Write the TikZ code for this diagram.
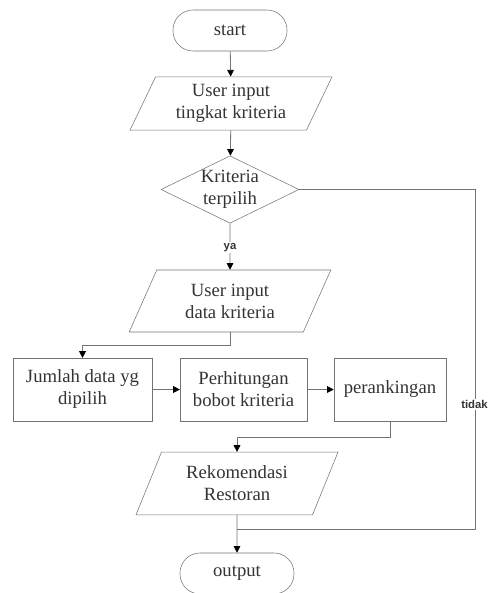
\documentclass[tikz,border=0pt]{standalone}
\usepackage{fontspec}
\setmainfont{Liberation Serif}
\newfontfamily\labelfont{Liberation Sans}
\usetikzlibrary{arrows.meta,shapes.geometric}

\tikzset{
  term/.style={draw=black!55,rounded corners=15pt,minimum width=85.5pt,minimum height=30.75pt,inner sep=0pt},
  io/.style={draw=black!55,trapezium,trapezium left angle=64,trapezium right angle=116,
    trapezium stretches=true,minimum width=151.5pt,align=center,inner sep=0pt},
  decision/.style={draw=black!55,diamond,aspect=2,minimum width=103.5pt,minimum height=48.75pt,
    align=center,inner sep=0pt},
  process/.style={draw=black!55,minimum height=47pt,align=center,inner sep=0pt},
  flow/.style={draw=black!55,line width=0.6pt,-{Triangle[length=5pt,width=5pt,fill=black,color=black]}},
  tag/.style={font=\labelfont\bfseries\fontsize{8.5}{10}\selectfont,fill=white,inner sep=1pt}
}

\begin{document}
\begin{tikzpicture}[x=0.75pt,y=-0.75pt,font=\fontsize{14}{16.5}\selectfont,text=black!80]
  \useasboundingbox (0,0) rectangle (487,593);
  % main column
  \node[term] (start) at (230,30.5) {start};
  \node[io,minimum height=40pt] (inkrit) at (231,103.5) {User input\\tingkat kriteria};
  \node[decision] (pilih) at (230,189.5) {Kriteria\\terpilih};
  \node[io,minimum height=46.5pt] (indata) at (230,301) {User input\\data kriteria};
  % process row
  \node[process,minimum width=104pt] (jumlah) at (82.5,389.5) {Jumlah data yg\\dipilih};
  \node[process,minimum width=95pt] (bobot) at (243.5,389.5) {Perhitungan\\bobot kriteria};
  \node[process,minimum width=84pt] (rank) at (390,389.5) {perankingan};
  % bottom
  \node[io,minimum height=47pt] (rekom) at (237,483.5) {Rekomendasi\\Restoran};
  \node[term] (output) at (237,573.5) {output};
  \coordinate (tidakpt) at (475,529);
  \coordinate (join) at (237,529);

  \draw[flow] (start) -- (inkrit);
  \draw[flow] (inkrit) -- (pilih);
  \draw[flow] (pilih) -- node[tag,pos=0.52] (ya) {ya} (indata);
  \draw[flow] (indata.south) -- ++(0,13) -| (jumlah.north);
  \draw[flow] (jumlah) -- (bobot);
  \draw[flow] (bobot) -- (rank);
  \draw[flow] (rank.south) -- ++(0,16) -| (rekom.north);
  \draw[flow] (rekom) -- (output);
  % tidak branch
  \draw[draw=black!55,line width=0.6pt] (pilih.east) -| (tidakpt) -- (join);
  \node[tag] (tidak) at (474.5,404) {tidak};
\end{tikzpicture}
\end{document}
